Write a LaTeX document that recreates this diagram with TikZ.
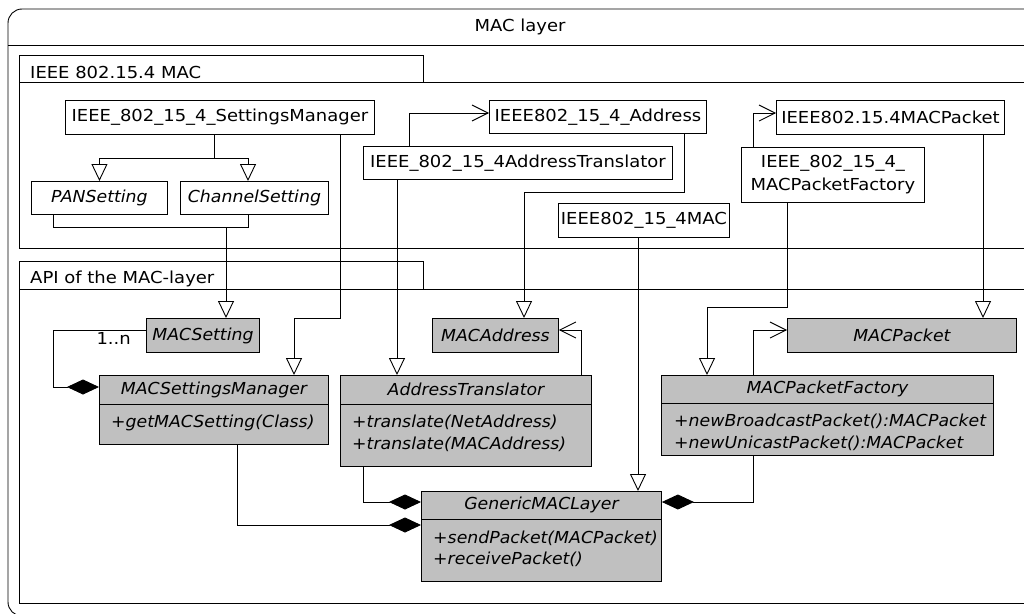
\documentclass[tikz,border=0pt]{standalone}
\usepackage{fontspec}
\setmainfont{DejaVu Sans}[FakeStretch=1.09]
\newfontfamily\itf{DejaVu Sans}[FakeStretch=1.05]
\usetikzlibrary{arrows.meta}
\definecolor{cgray}{RGB}{192,192,192}
\newcommand\itx{\itf\itshape}
\tikzset{
  every node/.style={font=\fontsize{16.5}{19}\selectfont},
  ln/.style={line width=0.9pt, draw=black},
  ibox/.style={draw, line width=0.9pt, fill=white, inner sep=0pt, anchor=north west},
  abox/.style={ibox, fill=cgray},
  gen/.style={ln, -{Triangle[open, length=17pt, width=16pt, fill=white]}},
  nav/.style={ln, -{Straight Barb[length=16pt, width=16pt]}},
  comp/.style={ln, {Diamond[length=32pt, width=15pt, fill=black]}-},
  itl/.style={font=\fontsize{16.5}{19}\selectfont\itx},
  mem/.style={itl, anchor=base west, inner sep=0pt},
}
\begin{document}
\begin{tikzpicture}[x=1pt,y=-1pt]
\useasboundingbox (0,0) rectangle (1024,613);
\clip (0,0) rectangle (1024,613);
\fill[white] (0,0) rectangle (1024,613);

% outer frame
\draw[ln, rounded corners=14pt] (8,9) rectangle (1100,616);
\draw[ln] (8,45) -- (1100,45);
\node (title) at (520,27) {MAC layer};

% IEEE package
\draw[ln] (19,82) rectangle (1100,248);
\node[ibox, minimum width=404pt, minimum height=27pt] (ieeetab) at (19,55) {};
\node[anchor=base west, inner sep=0pt] (ieeelbl) at (30,78) {IEEE 802.15.4 MAC};

% API package
\draw[ln] (19,289) rectangle (1100,603);
\node[ibox, minimum width=404pt, minimum height=28pt] (apitab) at (19,261) {};
\node[anchor=base west, inner sep=0pt] (apilbl) at (30,283) {API of the MAC-layer};

% IEEE classes
\node[ibox, minimum width=309pt, minimum height=34pt] (sm) at (65,100) {IEEE\_802\_15\_4\_SettingsManager};
\node[ibox, minimum width=136pt, minimum height=33pt, itl] (pan) at (31,181) {PANSetting};
\node[ibox, minimum width=148pt, minimum height=33pt, itl] (chan) at (180,181) {ChannelSetting};
\node[ibox, minimum width=217pt, minimum height=33pt] (addr) at (489,100) {IEEE802\_15\_4\_Address};
\node[ibox, minimum width=309pt, minimum height=33pt] (atr) at (363,146) {IEEE\_802\_15\_4AddressTranslator};
\node[ibox, minimum width=171pt, minimum height=34pt] (mac) at (558,203) {IEEE802\_15\_4MAC};
\node[ibox, minimum width=228pt, minimum height=34pt] (pkt) at (776,100) {IEEE802.15.4MACPacket};
\node[ibox, minimum width=183pt, minimum height=55pt, align=center, font=\fontsize{16.5}{23}\selectfont] (pf) at (741,147) {IEEE\_802\_15\_4\_\\MACPacketFactory};

% API classes
\node[abox, minimum width=113pt, minimum height=34pt, itl] (macsetting) at (146,318) {MACSetting};
\node[abox, minimum width=126pt, minimum height=34pt, itl] (macaddress) at (432,318) {MACAddress};
\node[abox, minimum width=229pt, minimum height=34pt, itl] (macpacket) at (787,318) {MACPacket};

\node[abox, minimum width=229pt, minimum height=69pt] (msm) at (99,375) {};
\node[itl] (msmh) at ([yshift=-14.5pt]msm.north) {MACSettingsManager};
\draw[ln] ([yshift=-29pt]msm.north west) -- ([yshift=-29pt]msm.north east);
\node[mem] (msm1) at ([xshift=12pt,yshift=-52.5pt]msm.north west) {+getMACSetting(Class)};

\node[abox, minimum width=251pt, minimum height=91pt] (at) at (340,375) {};
\node[itl] (ath) at ([yshift=-14.5pt]at.north) {AddressTranslator};
\draw[ln] ([yshift=-29pt]at.north west) -- ([yshift=-29pt]at.north east);
\node[mem] (at1) at ([xshift=12pt,yshift=-52.5pt]at.north west) {+translate(NetAddress)};
\node[mem] (at2) at ([xshift=12pt,yshift=-74.5pt]at.north west) {+translate(MACAddress)};

\node[abox, minimum width=332pt, minimum height=80pt] (mpf) at (661,375) {};
\node[itl] (mpfh) at ([yshift=-14pt]mpf.north) {MACPacketFactory};
\draw[ln] ([yshift=-28pt]mpf.north west) -- ([yshift=-28pt]mpf.north east);
\node[mem] (mpf1) at ([xshift=13pt,yshift=-51pt]mpf.north west) {+newBroadcastPacket():MACPacket};
\node[mem] (mpf2) at ([xshift=13pt,yshift=-73pt]mpf.north west) {+newUnicastPacket():MACPacket};

\node[abox, minimum width=240pt, minimum height=90pt] (gml) at (421,491) {};
\node[itl] (gmlh) at ([yshift=-14pt]gml.north) {GenericMACLayer};
\draw[ln] ([yshift=-28pt]gml.north west) -- ([yshift=-28pt]gml.north east);
\node[mem] (gml1) at ([xshift=12pt,yshift=-52pt]gml.north west) {+sendPacket(MACPacket)};
\node[mem] (gml2) at ([xshift=12pt,yshift=-73pt]gml.north west) {+receivePacket()};

% bend points
\coordinate (j1) at (214,158);
\coordinate (j1b) at (248,158);
\coordinate (j2a) at (53,227);
\coordinate (j2b) at (248,227);
\coordinate (j2) at (226,227);
\coordinate (j3) at (340,318);
\coordinate (j3b) at (294,318);
\coordinate (j4) at (409,113);
\coordinate (j5) at (397,260);
\coordinate (j6a) at (684,192);
\coordinate (j6b) at (524,192);
\coordinate (j7) at (638,260);
\coordinate (j8) at (753,113);
\coordinate (j9a) at (787,307);
\coordinate (j9b) at (707,307);
\coordinate (j10) at (983,260);
\coordinate (j11) at (753,330);
\coordinate (j12) at (581,330);
\coordinate (j13a) at (53,330);
\coordinate (j13b) at (53,387);
\coordinate (j14) at (363,502);
\coordinate (j15) at (237,525);
\coordinate (j16) at (753,502);

% connectors
\draw[ln] (sm.south -| j1) -- (j1);
\draw[gen] (j1) -| (pan.north);
\draw[gen] (j1) -- (j1b) -- (j1b |- chan.north);

\draw[ln] (pan.south -| j2a) -- (j2a) -- (j2b) -- (chan.south -| j2b);
\draw[gen] (j2) -- (j2 |- macsetting.north);

\draw[gen] (sm.south -| j3) -- (j3) -- (j3b) -- (j3b |- msm.north);

\draw[nav] (atr.north -| j4) -- (j4) -- (j4 -| addr.west);
\draw[gen] (atr.south -| j5) -- (at.north -| j5);
\draw[gen] (addr.south -| j6a) -- (j6a) -- (j6b) -- (j6b |- macaddress.north);
\draw[gen] (mac.south -| j7) -- (gml.north -| j7);
\draw[nav] (pf.north -| j8) -- (j8) -- (j8 -| pkt.west);
\draw[gen] (pf.south -| j9a) -- (j9a) -- (j9b) -- (j9b |- mpf.north);
\draw[gen] (pkt.south -| j10) -- (macpacket.north -| j10);
\draw[nav] (mpf.north -| j11) -- (j11) -- (j11 -| macpacket.west);
\draw[nav] (at.north -| j12) -- (j12) -- (j12 -| macaddress.east);

\draw[comp] (msm.west |- j13b) -- (j13b) -- (j13a) -- (j13a -| macsetting.west);
\node[anchor=base east, inner sep=0pt] (mult) at (131,344) {1..n};

\draw[comp] (gml.west |- j14) -- (j14) -- (at.south -| j14);
\draw[comp] (gml.west |- j15) -- (j15) -- (msm.south -| j15);
\draw[comp] (gml.east |- j16) -- (j16) -- (mpf.south -| j16);
\end{tikzpicture}
\end{document}
